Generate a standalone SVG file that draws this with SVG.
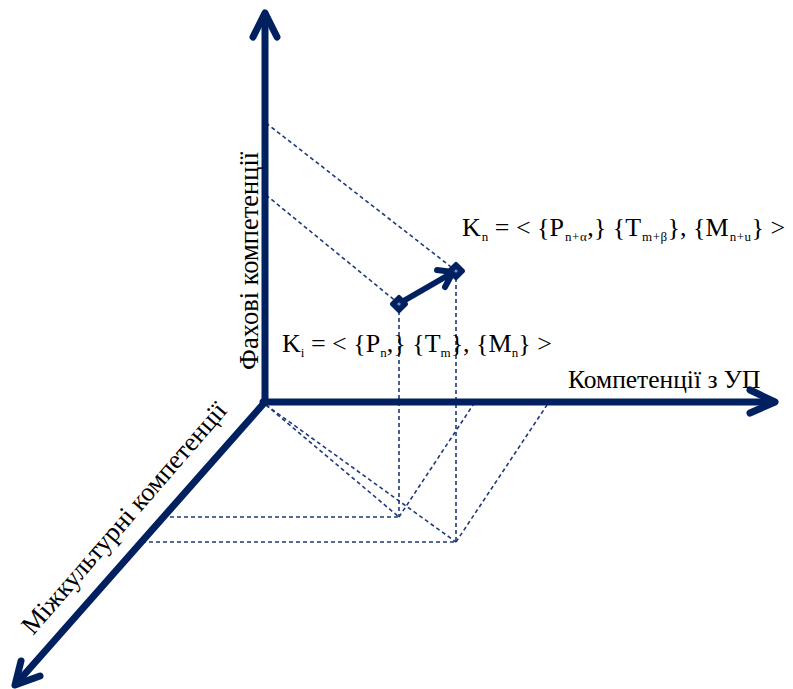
<svg xmlns="http://www.w3.org/2000/svg" width="793" height="689" viewBox="0 0 793 689">
<style>
.axis{stroke:#002060;stroke-width:7;fill:none;stroke-linecap:round;stroke-linejoin:round}
.dash{stroke:#1f3a7a;stroke-width:1.6;fill:none;stroke-dasharray:4 3}
.t{font-family:"Liberation Serif","Times New Roman",serif;fill:#000}
.sub{font-size:13px}
</style>
<rect width="793" height="689" fill="#fff"/>
<g id="connectors">
<g id="projections">
<line class="dash" x1="266" y1="123" x2="455" y2="270"/>
<line class="dash" x1="266" y1="195" x2="398" y2="303"/>
<line class="dash" x1="399" y1="304" x2="399" y2="517"/>
<line class="dash" x1="456" y1="271" x2="456" y2="542"/>
<line class="dash" x1="266" y1="405" x2="399" y2="517"/>
<line class="dash" x1="266" y1="405" x2="456" y2="542"/>
<line class="dash" x1="399" y1="517" x2="473" y2="405"/>
<line class="dash" x1="456" y1="542" x2="547" y2="405"/>
<line class="dash" x1="163" y1="517" x2="399" y2="517"/>
<line class="dash" x1="142" y1="542" x2="456" y2="542"/>
</g>
<g id="axes">
<line class="axis" x1="265" y1="402" x2="265" y2="14"/>
<polyline class="axis" points="253,37 265,13 277,37"/>
<line class="axis" x1="263" y1="402" x2="774" y2="402"/>
<polyline class="axis" points="750,390 775,402 750,413"/>
<line class="axis" x1="265" y1="402" x2="16" y2="684"/>
<polyline class="axis" points="21,661 15,685 40,676"/>
</g>
<g id="vector">
<line stroke="#002060" stroke-width="6" stroke-linecap="round" x1="400" y1="303" x2="452" y2="273"/>
<polyline stroke="#002060" stroke-width="6" stroke-linecap="round" stroke-linejoin="round" fill="none" points="437,270 453,272 445,287"/>
</g>
</g>
<g id="Ki">
<rect x="392" y="297" width="14" height="14" rx="2" fill="#002060" transform="rotate(45 399 304)"/>
<circle cx="399" cy="304" r="1.6" fill="#6f8fcf"/>
</g>
<g id="Kn">
<rect x="449" y="264" width="14" height="14" rx="2" fill="#002060" transform="rotate(45 456 271)"/>
<circle cx="456" cy="271" r="1.6" fill="#6f8fcf"/>
</g>
<g id="label-Kn">
<text class="t" x="462" y="236" font-size="26">K<tspan class="sub" dy="5" dx="1">n</tspan><tspan dy="-5"> = &lt; {P</tspan><tspan class="sub" dy="5" dx="1" letter-spacing="0.5">n+α</tspan><tspan dy="-5">,}  {T</tspan><tspan class="sub" dy="5" dx="1" letter-spacing="0.5">m+β</tspan><tspan dy="-5">}, {M</tspan><tspan class="sub" dy="5" dx="1" letter-spacing="0.5">n+u</tspan><tspan dy="-5">} &gt;</tspan></text>
</g>
<g id="label-Ki">
<text class="t" x="282" y="352" font-size="26">K<tspan class="sub" dy="5">i</tspan><tspan dy="-5"> = &lt; {P</tspan><tspan class="sub" dy="5">n</tspan><tspan dy="-5">,}  {T</tspan><tspan class="sub" dy="5">m</tspan><tspan dy="-5">}, {M</tspan><tspan class="sub" dy="5">n</tspan><tspan dy="-5">} &gt;</tspan></text>
</g>
<g id="label-x">
<text class="t" x="568" y="388" font-size="25.5">Компетенції з УП</text>
</g>
<g id="label-y">
<text class="t" font-size="26.5" transform="translate(258 370) rotate(-90)">Фахові компетенції</text>
</g>
<g id="label-z">
<text class="t" font-size="26.5" transform="translate(33 636) rotate(-49)">Міжкультурні компетенції</text>
</g>
</svg>
